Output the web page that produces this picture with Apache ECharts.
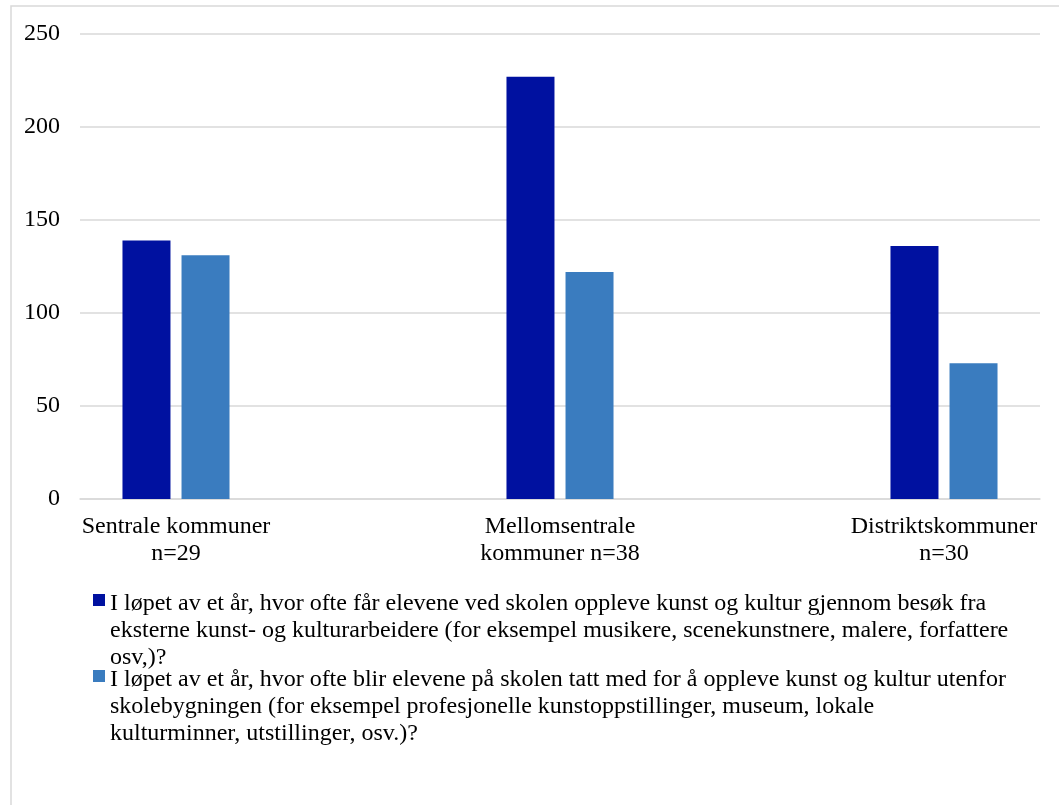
<!DOCTYPE html>
<html>
<head>
<meta charset="utf-8">
<script src="https://cdn.jsdelivr.net/npm/echarts@6/dist/echarts.min.js"></script>
<style>
  html, body { margin: 0; padding: 0; background: #fff; overflow: hidden; }
  #chart { width: 1059px; height: 805px; }
</style>
</head>
<body>
<div id="chart"></div>
<script>
// kategorier (x-aksen)
const categories = [
  'Sentrale kommuner\nn=29',
  'Mellomsentrale\nkommuner n=38',
  'Distriktskommuner\nn=30'
]
// serienavn (legend), brutt som i originalen
const seriesNames = [
  'I løpet av et år, hvor ofte får elevene ved skolen oppleve kunst og kultur gjennom besøk fra\neksterne kunst- og kulturarbeidere (for eksempel musikere, scenekunstnere, malere, forfattere\nosv,)?',
  'I løpet av et år, hvor ofte blir elevene på skolen tatt med for å oppleve kunst og kultur utenfor\nskolebygningen (for eksempel profesjonelle kunstoppstillinger, museum, lokale\nkulturminner, utstillinger, osv.)?'
]
const besokValues = [139, 227, 136]
const utenforValues = [131, 122, 73]
const yTicks = [0, 50, 100, 150, 200, 250]

const font = "'Liberation Serif', 'Times New Roman', serif"
const colors = ['#0011A0', '#3A7CBF']

// legend-ikon: firkant ved første linje, usynlige punkter gir høyden
const legendIcon = 'path://M0,4h12v12h-12z M0,0h0.01v0.01h-0.01z M0,81h0.01v0.01h-0.01z'

const chart = echarts.init(document.getElementById('chart'))

function toPoints(values) {
  return values.map((v, i) => [i, v])
}

chart.setOption({
  animation: false,
  textStyle: { fontFamily: font },
  graphic: [{
    type: 'rect',
    shape: { x: 11, y: 6, width: 1200, height: 1000 },
    style: { fill: 'none', stroke: '#d9d9d9', lineWidth: 1.5 },
    silent: true
  }],
  grid: { left: 80, right: 19, top: 34, bottom: 306 },
  legend: {
    orient: 'vertical',
    left: 88,
    top: 585,
    itemWidth: 12,
    itemHeight: 81,
    itemGap: -5,
    selectedMode: false,
    data: seriesNames.map(n => ({ name: n, icon: legendIcon })),
    textStyle: { fontFamily: font, fontSize: 24, lineHeight: 27, color: '#000' }
  },
  xAxis: {
    type: 'value',
    min: -0.25,
    max: 2.25,
    splitLine: { show: false },
    axisTick: { show: false },
    axisLine: { show: true, onZero: false, lineStyle: { color: '#d9d9d9', width: 1.5 } },
    axisLabel: {
      customValues: [0, 1, 2],
      formatter: v => categories[Math.round(v)],
      fontFamily: font,
      fontSize: 24,
      lineHeight: 27,
      color: '#000',
      margin: 14,
      align: 'center'
    }
  },
  yAxis: {
    type: 'value',
    min: 0,
    max: 250,
    interval: 50,
    axisLine: { show: false },
    axisTick: { show: false },
    splitLine: { lineStyle: { color: '#d9d9d9', width: 1.5 } },
    axisLabel: {
      fontFamily: font,
      fontSize: 24,
      color: '#000',
      margin: 20,
      formatter: v => (yTicks.indexOf(v) >= 0 ? String(v) : '')
    }
  },
  series: [
    {
      name: seriesNames[0],
      type: 'bar',
      barWidth: 48,
      barGap: '23%',
      itemStyle: { color: colors[0] },
      data: toPoints(besokValues)
    },
    {
      name: seriesNames[1],
      type: 'bar',
      barWidth: 48,
      barGap: '23%',
      itemStyle: { color: colors[1] },
      data: toPoints(utenforValues)
    }
  ]
})
</script>
</body>
</html>
